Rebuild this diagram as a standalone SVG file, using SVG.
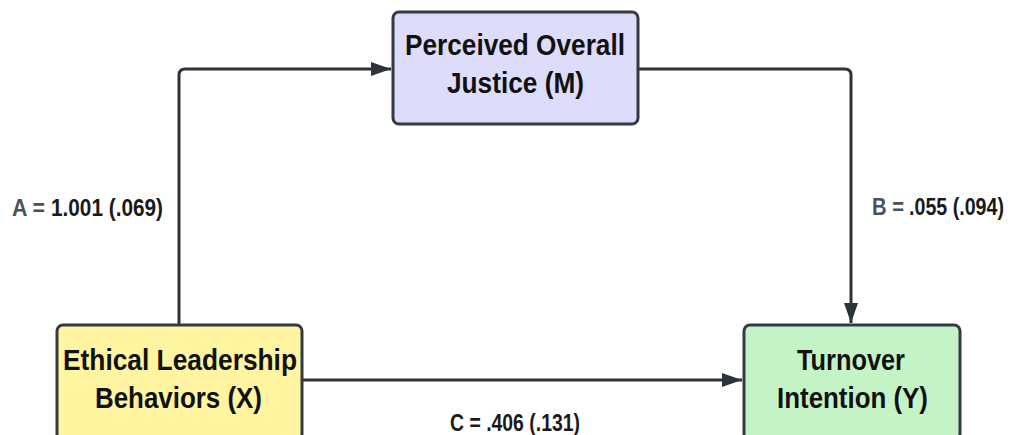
<svg xmlns="http://www.w3.org/2000/svg" width="1013" height="435" viewBox="0 0 1013 435">
  <style>
    .box { stroke: #333a44; stroke-width: 3; }
    .node-text { font-family: "Liberation Sans Narrow", "Liberation Sans", Arial, sans-serif; font-weight: bold; font-size: 29px; fill: #111111; text-anchor: middle; }
    .label { font-family: "Liberation Sans Narrow", "Liberation Sans", Arial, sans-serif; font-weight: bold; font-size: 23px; fill: #1a1a1a; }
    .key { fill: #4a515c; }
    .edge { fill: none; stroke: #2d333b; stroke-width: 3; }
  </style>
  <defs>
    <marker id="arrow" viewBox="0 0 20 14" refX="20" refY="7" markerWidth="20" markerHeight="14" markerUnits="userSpaceOnUse" orient="auto">
      <path d="M0,0 L20,7 L0,14 Z" fill="#2d333b"/>
    </marker>
  </defs>
  <rect width="1013" height="435" fill="#ffffff"/>

  <!-- connectors -->
  <g id="connectors">
    <path class="edge" d="M179,325 V75 Q179,69 185,69 H391" marker-end="url(#arrow)"/>
    <path class="edge" d="M638,69 H845 Q851,69 851,75 V323" marker-end="url(#arrow)"/>
    <path class="edge" d="M302,380 H742" marker-end="url(#arrow)"/>
  </g>

  <!-- mediator -->
  <g id="node-mediator">
    <rect class="box" x="393" y="12" width="245" height="112" rx="6" fill="#dddcfb"/>
    <text class="node-text" x="515" y="55" textLength="220" lengthAdjust="spacingAndGlyphs">Perceived Overall</text>
    <text class="node-text" x="515.5" y="93" textLength="137" lengthAdjust="spacingAndGlyphs">Justice (M)</text>
  </g>

  <!-- predictor -->
  <g id="node-predictor">
    <rect class="box" x="57" y="325" width="245" height="115" rx="6" fill="#fff4a0"/>
    <text class="node-text" x="180" y="370" textLength="234" lengthAdjust="spacingAndGlyphs">Ethical Leadership</text>
    <text class="node-text" x="178.5" y="408" textLength="167" lengthAdjust="spacingAndGlyphs">Behaviors (X)</text>
  </g>

  <!-- outcome -->
  <g id="node-outcome">
    <rect class="box" x="744" y="325" width="216" height="115" rx="6" fill="#c4f4c6"/>
    <text class="node-text" x="851" y="370" textLength="108" lengthAdjust="spacingAndGlyphs">Turnover</text>
    <text class="node-text" x="852.5" y="408" textLength="151" lengthAdjust="spacingAndGlyphs">Intention (Y)</text>
  </g>

  <!-- path coefficients: letter key in grey, estimate (SE) in black -->
  <g id="labels">
    <text class="label key" x="12" y="216" textLength="33" lengthAdjust="spacingAndGlyphs">A =</text>
    <text class="label" x="51" y="216" textLength="112" lengthAdjust="spacingAndGlyphs">1.001 (.069)</text>
    <text class="label key" x="872" y="215" textLength="32" lengthAdjust="spacingAndGlyphs">B =</text>
    <text class="label" x="1004" y="215" text-anchor="end" textLength="95" lengthAdjust="spacingAndGlyphs">.055 (.094)</text>
    <text class="label" x="450" y="431" textLength="130" lengthAdjust="spacingAndGlyphs">C = .406 (.131)</text>
  </g>
</svg>
